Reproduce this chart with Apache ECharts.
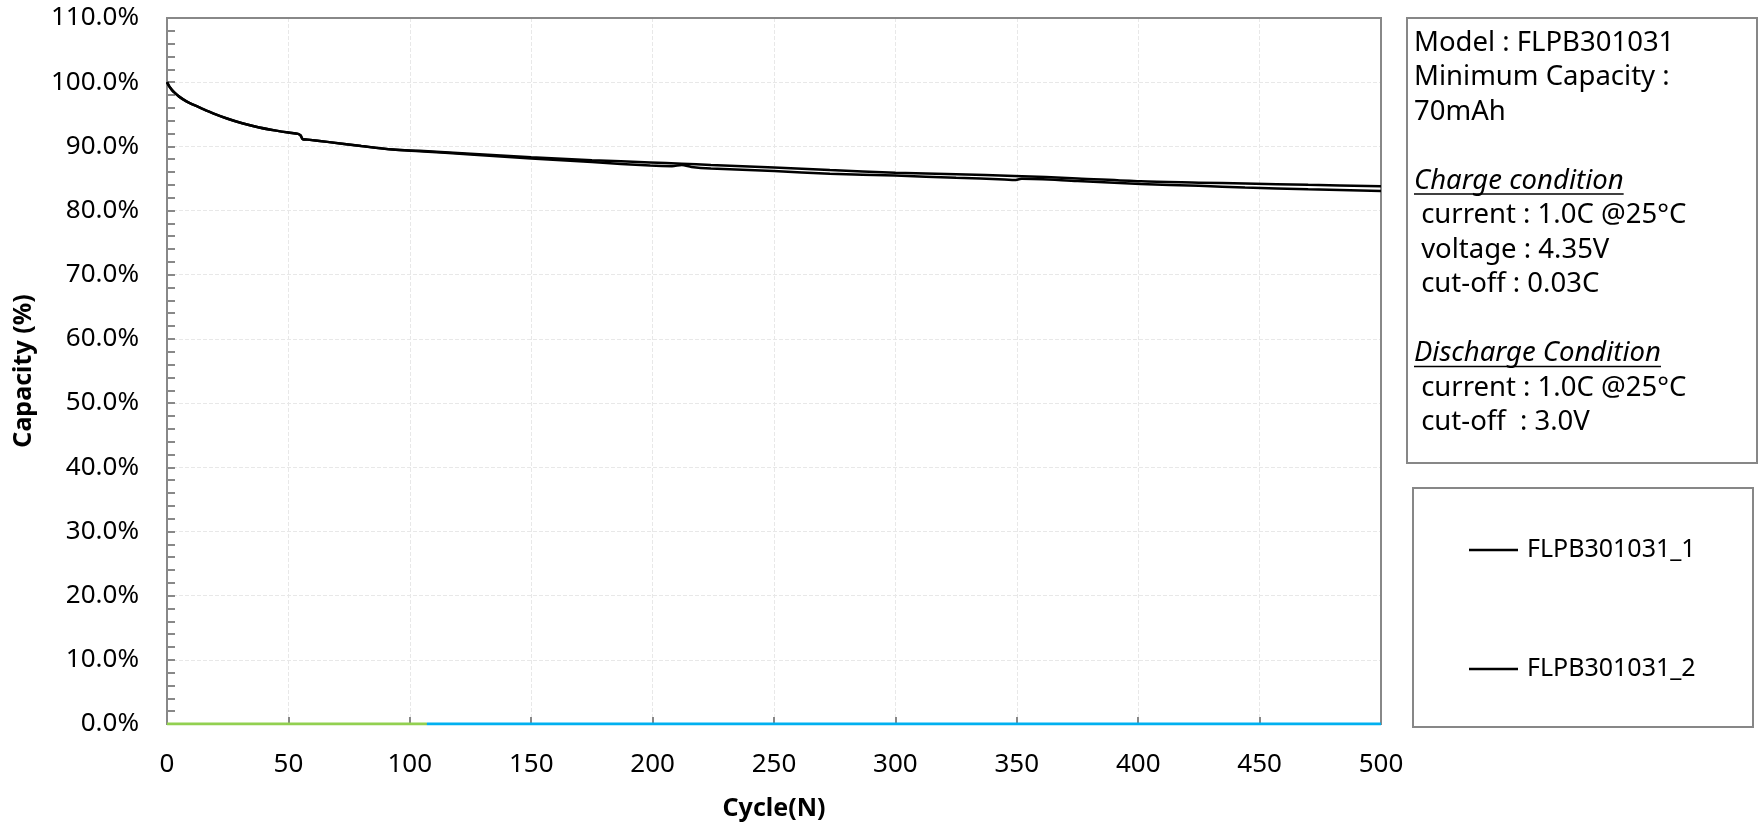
<!DOCTYPE html>
<html>
<head>
<meta charset="utf-8">
<script src="https://cdn.jsdelivr.net/npm/echarts@6/dist/echarts.min.js"></script>
<style>
html,body{margin:0;padding:0;background:#fff;}
#chart{width:1760px;height:826px;}
</style>
</head>
<body>
<div id="chart"></div>
<script>
// ---- data ----
const cycles1 = [0,1,2,3,5,8,11,14,19,25,31,38,45,50,54,55,56,58,66,80,93,104,125,150,175,199,212,224,250,273,300,325,349,375,401,425,444,470,500];
const cap1    = [100.0,99.3,98.8,98.4,97.75,97.0,96.45,95.95,95.15,94.3,93.6,92.95,92.45,92.15,91.95,91.7,91.1,91.05,90.7,90.05,89.5,89.3,88.85,88.3,87.85,87.5,87.3,87.1,86.7,86.3,85.9,85.65,85.4,85.0,84.55,84.35,84.2,84.0,83.8];
const cycles2 = [0,1,2,3,5,8,11,14,19,25,31,38,45,50,54,55,56,58,66,80,93,104,125,150,175,199,208,212,216,224,250,273,300,325,345,349,352,375,401,425,444,470,500];
const cap2    = [100.0,99.3,98.8,98.4,97.75,97.0,96.45,95.95,95.15,94.3,93.6,92.95,92.45,92.15,91.95,91.7,91.1,91.05,90.7,90.05,89.5,89.25,88.75,88.1,87.55,87.0,86.9,87.1,86.8,86.55,86.15,85.75,85.45,85.1,84.85,84.75,84.95,84.6,84.15,83.85,83.6,83.3,83.05];
const zeroGreenX = [0,107];
const zeroBlueX  = [107,500];
const seriesNames = ['FLPB301031_1','FLPB301031_2'];
const infoLines = [
  {t:'Model : FLPB301031'},
  {t:'Minimum Capacity :'},
  {t:'70mAh'},
  {t:''},
  {t:'Charge condition', u:true},
  {t:' current : 1.0C @25\u00B0C'},
  {t:' voltage : 4.35V'},
  {t:' cut-off : 0.03C'},
  {t:''},
  {t:'Discharge Condition', u:true},
  {t:' current : 1.0C @25\u00B0C'},
  {t:' cut-off  : 3.0V'}
];

const FONT = '"Noto Sans", "Open Sans", sans-serif';
const pair = (xs, ys) => xs.map((x,i)=>[x, ys[i]]);

// info box graphics
const infoFontSize = 27.5;
const mctx = document.createElement('canvas').getContext('2d');
const graphics = [
  {type:'rect', shape:{x:1407,y:18,width:350,height:445}, style:{fill:'#fff', stroke:'#878787', lineWidth:2}, z:10},
  {type:'rect', shape:{x:1413,y:488,width:340,height:239}, style:{fill:'#fff', stroke:'#878787', lineWidth:2}, z:1}
];
infoLines.forEach((ln, i) => {
  if (!ln.t) return;
  const y = 43 + i * 34.5;
  const fs = ln.u ? 'italic' : 'normal';
  graphics.push({type:'text', x:1414, y:y, z:11,
    style:{text:ln.t, font: fs + ' ' + infoFontSize + 'px ' + FONT, fill:'#000', textVerticalAlign:'middle', textAlign:'left'}});
  if (ln.u) {
    mctx.font = fs + ' ' + infoFontSize + 'px ' + FONT;
    const w = mctx.measureText(ln.t).width;
    graphics.push({type:'line', z:11, shape:{x1:1414,y1:y+13,x2:1414+w,y2:y+13}, style:{stroke:'#000', lineWidth:1.5}});
  }
});

const chart = echarts.init(document.getElementById('chart'), null, {renderer:'canvas'});
chart.setOption({
  animation:false,
  backgroundColor:'#fff',
  textStyle:{fontFamily:FONT},
  grid:{left:167, top:18, right:379, bottom:102, show:true, borderColor:'#888', borderWidth:2, containLabel:false, outerBoundsMode:'none', z:3},
  legend:{
    data: seriesNames,
    orient:'vertical',
    left:1469, top:535, padding:0,
    icon:'rect', itemWidth:49, itemHeight:2.5,
    itemGap:89,
    textStyle:{fontSize:25, fontFamily:FONT, color:'#000', lineHeight:30, padding:[0,0,0,4]},
    z:5
  },
  xAxis:{
    type:'value', min:0, max:500, interval:50,
    name:'Cycle(N)', nameLocation:'middle', nameGap:72,
    nameTextStyle:{fontSize:25, fontWeight:'bold', color:'#000', fontFamily:FONT},
    axisLine:{show:true, lineStyle:{color:'#888', width:2}},
    axisTick:{show:true, inside:true, length:7, lineStyle:{color:'#888', width:2}},
    axisLabel:{fontSize:26, color:'#000', margin:28, fontFamily:FONT},
    splitLine:{show:true, showMinLine:false, showMaxLine:false, lineStyle:{color:'#e8e8e8', type:'dashed', width:1}}
  },
  yAxis:{
    type:'value', min:0, max:110, interval:10,
    name:'Capacity (%)', nameLocation:'middle', nameGap:131, nameRotate:90,
    nameTextStyle:{fontSize:25, fontWeight:'bold', color:'#000', fontFamily:FONT},
    axisLine:{show:true, lineStyle:{color:'#888', width:2}},
    axisTick:{show:true, inside:true, length:8, lineStyle:{color:'#888', width:2}},
    minorTick:{show:true, splitNumber:5, length:8, lineStyle:{color:'#888', width:2}},
    axisLabel:{fontSize:26, color:'#000', margin:28, fontFamily:FONT, formatter:(v)=>v.toFixed(1)+'%'},
    splitLine:{show:true, showMinLine:false, showMaxLine:false, lineStyle:{color:'#e8e8e8', type:'dashed', width:1}}
  },
  series:[
    {name:seriesNames[0], type:'line', data:pair(cycles1, cap1), showSymbol:false, symbol:'none', smooth:0.3,
     lineStyle:{color:'#000', width:2.5}, itemStyle:{color:'#000'}, z:4},
    {name:seriesNames[1], type:'line', data:pair(cycles2, cap2), showSymbol:false, symbol:'none', smooth:0.3,
     lineStyle:{color:'#000', width:2.5}, itemStyle:{color:'#000'}, z:4},
    {name:'zeroBlue', type:'line', data:zeroBlueX.map(x=>[x,0]), showSymbol:false, symbol:'none',
     lineStyle:{color:'#00B0F0', width:3}, z:3},
    {name:'zeroGreen', type:'line', data:zeroGreenX.map(x=>[x,0]), showSymbol:false, symbol:'none',
     lineStyle:{color:'#92D050', width:3}, z:3}
  ],
  graphic: graphics
});
</script>
</body>
</html>
